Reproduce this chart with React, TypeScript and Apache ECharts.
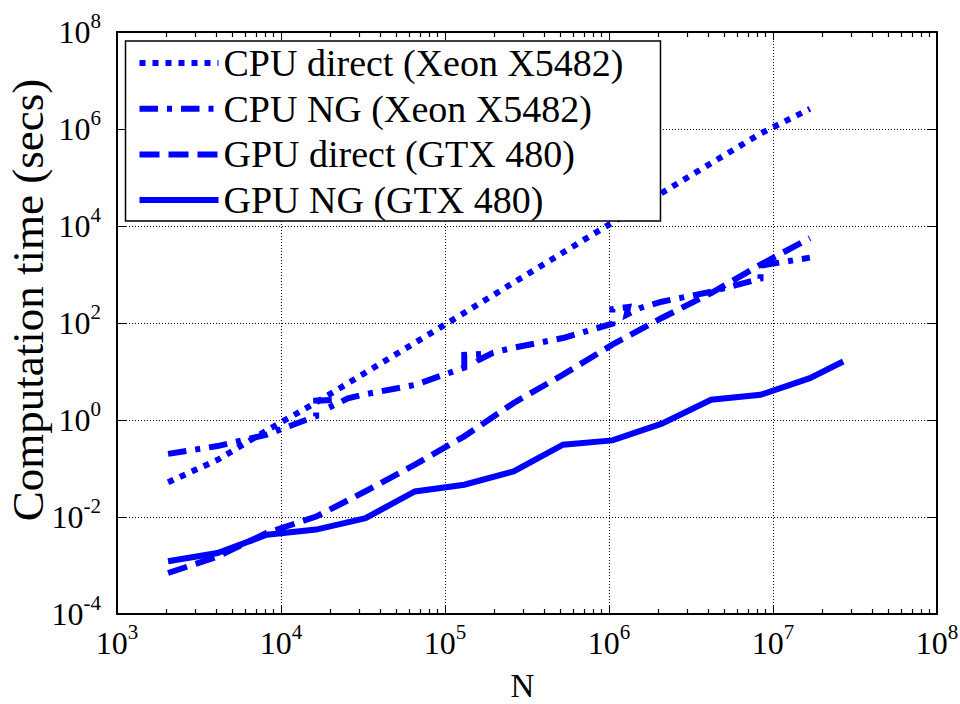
import React, { useEffect, useRef } from "react";
import * as echarts from "echarts";

const FONT = "Liberation Serif";

const seriesNames = [
  "CPU direct (Xeon X5482)",
  "CPU NG (Xeon X5482)",
  "GPU direct (GTX 480)",
  "GPU NG (GTX 480)",
];

const cpuDirectN = [2048, 4096, 8192, 16384, 32768, 65536, 131072, 262144, 524288, 1048576, 2097152, 4194304, 8388608, 16777216];
const cpuDirectT = [0.052, 0.15, 0.61, 2.3, 9.5, 39, 162, 680, 2840, 11800, 48000, 197000, 804000, 2600000];

const cpuNgN = [2048, 4096, 8192, 16384, 16384, 20500, 19600, 25600, 32768, 65536, 131072, 131072, 168000, 157000, 196000, 262144, 524288, 1048576, 1048576, 1310000, 1280000, 1550000, 2097152, 4194304, 8388608, 8388608, 16777216];
const cpuNgT = [0.2, 0.29, 0.5, 1.2, 2.5, 2.6, 1.8, 2.8, 3.4, 5.3, 12, 22, 23, 16.7, 24.4, 31, 49, 97, 194, 214, 148, 204, 275, 442, 819, 1520, 2230];

const gpuDirectN = [2048, 4096, 8192, 16384, 32768, 65536, 131072, 262144, 524288, 1048576, 2097152, 4194304, 8388608, 16777216];
const gpuDirectT = [0.0007, 0.00152, 0.0047, 0.0102, 0.034, 0.12, 0.46, 2.24, 8.6, 35.7, 127, 415, 1600, 5650];

const gpuNgN = [2048, 4096, 8192, 16384, 32768, 65536, 131072, 262144, 524288, 1048576, 2097152, 4194304, 8388608, 16777216, 26800000];
const gpuNgT = [0.00122, 0.00181, 0.0043, 0.0055, 0.0095, 0.0337, 0.0463, 0.087, 0.31, 0.38, 0.84, 2.62, 3.3, 7.3, 16.1];

const xMinorTicks = [
  2e3, 3e3, 4e3, 5e3, 6e3, 7e3, 8e3, 9e3,
  2e4, 3e4, 4e4, 5e4, 6e4, 7e4, 8e4, 9e4,
  2e5, 3e5, 4e5, 5e5, 6e5, 7e5, 8e5, 9e5,
  2e6, 3e6, 4e6, 5e6, 6e6, 7e6, 8e6, 9e6,
  2e7, 3e7, 4e7, 5e7, 6e7, 7e7, 8e7, 9e7,
];

const X_MIN = 1e3;
const X_MAX = 1e8;
const Y_MIN = 1e-4;
const Y_MAX = 1e8;

const BLUE = "#0000ff";
const dashPatterns: any[] = [[6, 7], [18.5, 9, 5, 9], [20, 9], "solid"];

function pow10Label(v: number) {
  const e = Math.round(Math.log10(v));
  return "{b|10}{sup|" + e + "}";
}

const richLabel = {
  b: { fontFamily: FONT, fontSize: 32, lineHeight: 32, color: "#000" },
  sup: { fontFamily: FONT, fontSize: 21, lineHeight: 21, color: "#000", padding: [0, 0, 22, 0] },
};

export default function App() {
  const ref = useRef<HTMLDivElement>(null);
  useEffect(() => {
    if (!ref.current) return;
    const chart = echarts.init(ref.current, undefined, { renderer: "svg" });
    const pairs = (xs: number[], ys: number[]) => xs.map((x, i) => [x, ys[i]]);
    const datasets = [
      pairs(cpuDirectN, cpuDirectT),
      pairs(cpuNgN, cpuNgT),
      pairs(gpuDirectN, gpuDirectT),
      pairs(gpuNgN, gpuNgT),
    ];
    const axisLine = { show: true, lineStyle: { color: "#000", width: 2 } };
    const xBase = { type: "log", logBase: 10, min: X_MIN, max: X_MAX, gridIndex: 0 };
    const yBase = { type: "log", logBase: 10, min: Y_MIN, max: Y_MAX, interval: 2, gridIndex: 0 };
    const gridLine = { show: true, lineStyle: { color: "#000", width: 1, type: [1, 2] } };
    const lineSeries = seriesNames.map((name, i) => ({
      name,
      type: "line",
      xAxisIndex: 0,
      yAxisIndex: 0,
      data: datasets[i],
      symbol: "none",
      showSymbol: false,
      silent: true,
      z: 3 + i,
      lineStyle: { color: BLUE, width: 6, type: dashPatterns[i], cap: "butt", join: "miter" },
      itemStyle: { color: BLUE },
    }));
    const minorTickSeries = {
      name: "minorTicks",
      type: "custom",
      xAxisIndex: 0,
      yAxisIndex: 0,
      silent: true,
      clip: false,
      z: 10,
      encode: { x: 0, y: 1 },
      data: xMinorTicks.map((v) => [v, 1]),
      renderItem: (_params: any, api: any) => {
        const x = api.value(0);
        const b = api.coord([x, Y_MIN]);
        const t = api.coord([x, Y_MAX]);
        const px = Math.round(b[0]) + 0.5;
        return {
          type: "group",
          children: [
            { type: "line", shape: { x1: px, y1: b[1], x2: px, y2: b[1] - 5 }, style: { stroke: "#000", lineWidth: 1.2 } },
            { type: "line", shape: { x1: px, y1: t[1], x2: px, y2: t[1] + 5 }, style: { stroke: "#000", lineWidth: 1.2 } },
          ],
        };
      },
    };
    const option: any = {
      animation: false,
      backgroundColor: "#fff",
      textStyle: { fontFamily: FONT },
      grid: { left: 117, right: 23, top: 32, bottom: 90, containLabel: false, outerBoundsMode: "none" },
      legend: {
        data: seriesNames,
        orient: "vertical",
        left: 125.5,
        top: 41,
        itemWidth: 79,
        itemHeight: 40,
        itemGap: 5.7,
        padding: [2, 37, 1, 11],
        backgroundColor: "#fff",
        borderColor: "#000",
        borderWidth: 1.5,
        selectedMode: false,
        z: 20,
        textStyle: { fontFamily: FONT, fontSize: 38, color: "#000", lineHeight: 40 },
        lineStyle: { width: 6 },
        itemStyle: { color: "rgba(0,0,0,0)", borderWidth: 0, opacity: 0 },
      },
      xAxis: [
        {
          ...xBase,
          position: "bottom",
          name: "N",
          nameLocation: "middle",
          nameGap: 58,
          nameTextStyle: { fontFamily: FONT, fontSize: 33, lineHeight: 26, color: "#000", padding: [0, 9, 0, 0] },
          axisLine,
          axisTick: { show: true, inside: true, length: 8, lineStyle: { color: "#000", width: 1 } },
          axisLabel: { show: true, margin: 13, formatter: pow10Label, rich: richLabel },
          splitLine: gridLine,
        },
        {
          ...xBase,
          position: "top",
          axisLine,
          axisTick: { show: true, inside: true, length: 8, lineStyle: { color: "#000", width: 1 } },
          axisLabel: { show: false },
          splitLine: { show: false },
        },
      ],
      yAxis: [
        {
          ...yBase,
          position: "left",
          name: "Computation time (secs)",
          nameLocation: "middle",
          nameRotate: 90,
          nameGap: 66,
          nameMoveOverlap: false,
          nameTextStyle: { fontFamily: FONT, fontSize: 45, lineHeight: 46, color: "#000", padding: [0, 0, 0, 46] },
          axisLine,
          axisTick: { show: true, inside: true, length: 9, lineStyle: { color: "#000", width: 1 } },
          axisLabel: { show: true, margin: 16, formatter: pow10Label, rich: richLabel },
          splitLine: gridLine,
        },
        {
          ...yBase,
          position: "right",
          axisLine,
          axisTick: { show: true, inside: true, length: 9, lineStyle: { color: "#000", width: 1 } },
          axisLabel: { show: false },
          splitLine: { show: false },
        },
      ],
      series: [...lineSeries, minorTickSeries],
    };
    chart.setOption(option);
    return () => chart.dispose();
  }, []);
  return (
    <div
      ref={ref}
      style={{ position: "fixed", left: 0, top: 0, width: 960, height: 704, background: "#fff" }}
    />
  );
}
